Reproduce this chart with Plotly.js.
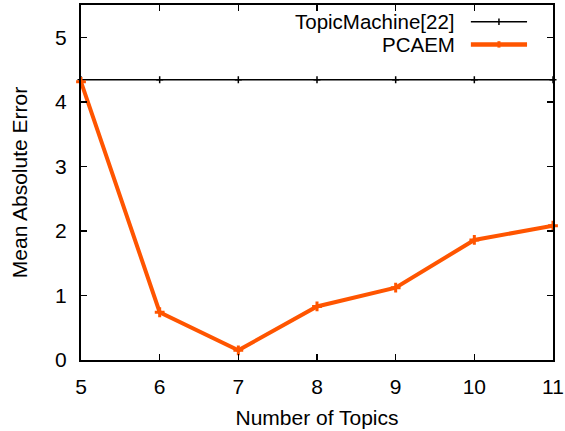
<!DOCTYPE html>
<html>
<head>
<meta charset="utf-8">
<script src="https://cdn.plot.ly/plotly-3.0.1.min.js"></script>
<style>
  html, body { margin: 0; padding: 0; background: #fff; }
  #chart { width: 565px; height: 431px; }
</style>
</head>
<body>
<div id="chart"></div>
<script>
// Mean absolute error against the number of topics
const topics = [5, 6, 7, 8, 9, 10, 11];
const topicMachineMAE = [4.34, 4.34, 4.34, 4.34, 4.34, 4.34, 4.34];
const pcaemMAE = [4.31, 0.74, 0.15, 0.83, 1.12, 1.86, 2.08];
const seriesNames = ['TopicMachine[22]', 'PCAEM'];

const orange = '#ff5500';
const family = 'Liberation Sans, Arial, sans-serif';
const font = { family: family, size: 21, color: '#000' };
const keyFont = { family: family, size: 20.5, color: '#000' };

const traces = [
  {
    x: topics, y: topicMachineMAE, name: seriesNames[0],
    mode: 'lines+markers', type: 'scatter',
    line: { color: '#000', width: 1.5 },
    marker: { symbol: 'cross-thin', size: 5, line: { color: '#000', width: 1.5 } },
    cliponaxis: false, showlegend: false
  },
  {
    x: topics, y: pcaemMAE, name: seriesNames[1],
    mode: 'lines+markers', type: 'scatter',
    line: { color: orange, width: 4 },
    marker: { symbol: 'cross-thin', size: 7, line: { color: orange, width: 3 } },
    cliponaxis: false, showlegend: false
  }
];

// Key in the upper right: text first, line sample to its right
const keyRows = [0.953, 0.889];
const keyColors = ['#000', orange];
const keyWidths = [1.5, 4.5];
const annotations = seriesNames.map((n, i) => ({
  xref: 'paper', yref: 'paper', x: 0.797, y: keyRows[i],
  xanchor: 'right', yanchor: 'middle', text: n, showarrow: false, font: keyFont
}));
const shapes = [];
seriesNames.forEach((n, i) => {
  shapes.push({ type: 'line', xref: 'paper', yref: 'paper',
    x0: 0.826, x1: 0.945, y0: keyRows[i], y1: keyRows[i],
    line: { color: keyColors[i], width: keyWidths[i] } });
  shapes.push({ type: 'line', xref: 'paper', yref: 'paper',
    x0: 0.8855, x1: 0.8855, y0: keyRows[i] - 0.009, y1: keyRows[i] + 0.009,
    line: { color: keyColors[i], width: i === 0 ? 1.5 : 3 } });
});

const layout = {
  width: 565, height: 431,
  margin: { l: 81, r: 12, t: 5, b: 71 },
  paper_bgcolor: '#fff', plot_bgcolor: '#fff',
  font: font,
  showlegend: false,
  xaxis: {
    range: [5, 11], tickvals: topics, ticktext: topics.map(String),
    ticks: 'inside', ticklen: 6, tickwidth: 1.5, tickcolor: '#000',
    showline: true, linecolor: '#000', linewidth: 2, mirror: 'ticks',
    showgrid: false, zeroline: false, ticklabelstandoff: 7,
    title: { text: 'Number of Topics', font: font, standoff: 13 }
  },
  yaxis: {
    range: [0, 5.5], tickvals: [0, 1, 2, 3, 4, 5],
    ticks: 'inside', ticklen: 6, tickwidth: 1.5, tickcolor: '#000',
    showline: true, linecolor: '#000', linewidth: 2, mirror: 'ticks',
    showgrid: false, zeroline: false, ticklabelstandoff: 8,
    title: { text: 'Mean Absolute Error', font: font, standoff: 22 }
  },
  annotations: annotations,
  shapes: shapes
};

Plotly.newPlot('chart', traces, layout, { displayModeBar: false, staticPlot: true });
</script>
</body>
</html>
